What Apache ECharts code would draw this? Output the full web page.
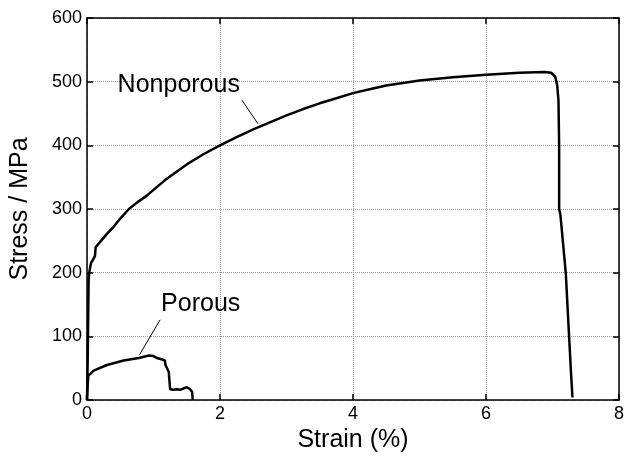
<!DOCTYPE html>
<html lang="en">

<head>
    <meta charset="UTF-8">
    <title>stress strain</title>
    <script src="https://cdn.jsdelivr.net/npm/echarts@6/dist/echarts.min.js"></script>
</head>

<body style="margin:0">
    <div id="main" style="width: 627px;height: 461px;"></div>
    <script>
        // [strain %, stress MPa]
        var nonporous = [
            [0, 0], [0.01, 60], [0.02, 150], [0.025, 190], [0.035, 201], [0.06, 215], [0.12, 226],
            [0.13, 240], [0.16, 243], [0.21, 250], [0.3, 261], [0.4, 272], [0.5, 285], [0.63, 300],
            [0.75, 310], [0.9, 321], [1.0, 330], [1.17, 345], [1.3, 355], [1.5, 370], [1.75, 386],
            [2, 400], [2.25, 413], [2.5, 425], [2.75, 436], [3, 447], [3.25, 457], [3.5, 466],
            [3.75, 474], [4, 482], [4.25, 488], [4.5, 494], [4.75, 498], [5, 502], [5.5, 507],
            [6, 511], [6.5, 514], [6.88, 515], [6.98, 514], [7.04, 508], [7.07, 495], [7.09, 470],
            [7.1, 400], [7.1, 300], [7.12, 290], [7.2, 199], [7.25, 99], [7.28, 40], [7.3, 4]
        ]
        var porous = [
            [0, 0], [0.01, 25], [0.02, 38], [0.1, 46], [0.3, 55], [0.55, 62], [0.78, 66], [0.93, 70],
            [1.0, 69], [1.05, 66], [1.08, 68], [1.12, 64], [1.17, 62], [1.18, 55], [1.21, 52], [1.23, 44],
            [1.24, 30], [1.25, 17], [1.3, 16], [1.35, 17], [1.4, 16], [1.45, 18], [1.5, 20], [1.55, 17],
            [1.58, 13], [1.59, 0]
        ]
        // annotation text and leader lines, in data units
        var labelNames = ['Nonporous', 'Porous']
        var labelPos = [[1.38, 495], [1.71, 151]]
        var leaderNonporous = [[2.33, 471], [2.57, 434]]
        var leaderPorous = [[1.10, 126], [0.79, 71]]
        var xTicks = [0, 2, 4, 6, 8]
        var yTicks = [0, 100, 200, 300, 400, 500, 600]

        var font = 'Liberation Sans, Arial, sans-serif'
        var myCharts = echarts.init(document.getElementById('main'))

        var baseAxis = {
            type: 'value',
            axisLine: { show: true, onZero: false, lineStyle: { color: '#000', width: 1.5 } },
            axisTick: { show: true, inside: true, length: 6, lineStyle: { color: '#000', width: 1.5 } },
            splitLine: { show: false }
        }

        var option = {
            animation: false,
            backgroundColor: '#fff',
            grid: { left: 86, right: 5, top: 18, bottom: 61 },
            xAxis: [
                Object.assign({}, baseAxis, {
                    min: xTicks[0], max: xTicks[xTicks.length - 1], interval: 2,
                    name: 'Strain (%)', nameLocation: 'middle', nameGap: 28,
                    nameTextStyle: { fontSize: 25, color: '#000', fontFamily: font },
                    axisLabel: { fontSize: 18, color: '#000', fontFamily: font, margin: 5, showMaxLabel: true },
                    splitLine: { show: true, lineStyle: { color: '#999', type: 'dotted', width: 1 } }
                }),
                Object.assign({}, baseAxis, {
                    position: 'top', min: 0, max: 8, interval: 2, axisLabel: { show: false }
                })
            ],
            yAxis: [
                Object.assign({}, baseAxis, {
                    min: yTicks[0], max: yTicks[yTicks.length - 1], interval: 100,
                    name: 'Stress / MPa', nameLocation: 'middle', nameGap: 54,
                    nameTextStyle: { fontSize: 25, color: '#000', fontFamily: font },
                    axisLabel: { fontSize: 18, color: '#000', fontFamily: font, margin: 5 },
                    splitLine: { show: true, lineStyle: { color: '#999', type: 'dotted', width: 1 } }
                }),
                Object.assign({}, baseAxis, {
                    position: 'right', min: 0, max: 600, interval: 100, axisLabel: { show: false }
                })
            ],
            series: [
                {
                    name: 'Nonporous', type: 'line', data: nonporous, showSymbol: false,
                    lineStyle: { color: '#000', width: 2.5 }
                },
                {
                    name: 'Porous', type: 'line', data: porous, showSymbol: false,
                    lineStyle: { color: '#000', width: 2.5 }
                },
                {
                    type: 'line', data: leaderNonporous, showSymbol: false,
                    lineStyle: { color: '#000', width: 1 }
                },
                {
                    type: 'line', data: leaderPorous, showSymbol: false,
                    lineStyle: { color: '#000', width: 1 }
                },
                {
                    // text-only marks for the two curve names
                    type: 'scatter', symbolSize: 0,
                    itemStyle: { opacity: 1, color: '#000' },
                    data: labelPos.map(function (p, i) { return { name: labelNames[i], value: p } }),
                    label: {
                        show: true, position: 'inside', formatter: '{b}',
                        fontSize: 25, color: '#000', fontFamily: font, textBorderWidth: 0
                    }
                }
            ]
        }
        myCharts.setOption(option)
    </script>
</body>

</html>
